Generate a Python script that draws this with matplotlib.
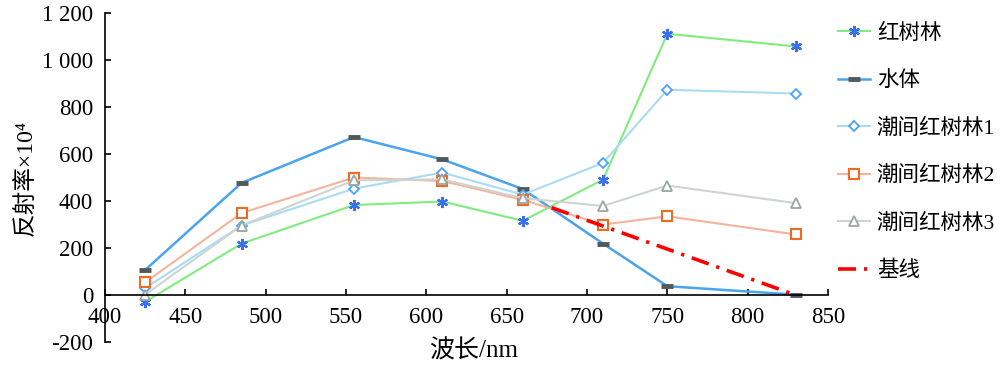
import matplotlib.pyplot as plt
from matplotlib.ticker import FuncFormatter

plt.rcParams['font.family'] = ['Liberation Serif', 'Noto Sans CJK SC']
plt.rcParams['axes.unicode_minus'] = False

wavelength = [425, 485, 555, 610, 660, 710, 750, 830]
mangrove = [-28, 219, 383, 398, 316, 491, 1111, 1057]
water = [107, 477, 672, 577, 451, 219, 38, 2]
tidal1 = [30, 296, 453, 521, 427, 562, 873, 857]
tidal2 = [54, 349, 500, 485, 405, 300, 335, 258]
tidal3 = [2, 296, 488, 492, 412, 379, 466, 391]
base_x = [678, 830]
base_y = [372, 0]

labels = ['红树林', '水体', '潮间红树林1', '潮间红树林2', '潮间红树林3', '基线']

fig = plt.figure(figsize=(10, 3.66), dpi=100)
ax = fig.add_axes([0.105, 0.065, 0.723, 0.9])

ax.plot(wavelength, mangrove, color='#80ec80', lw=1.5, marker=(6, 2, 0),
        ms=8, mec='#3a6ff0', mew=1.6, label=labels[0])
ax.plot(wavelength, water, color='#4aa3ee', lw=1.8, marker='_',
        ms=9, mec='#505a5a', mew=3.5, label=labels[1])
ax.plot(wavelength, tidal1, color='#a9dcf4', lw=1.5, marker='D',
        ms=5.5, mfc='white', mec='#4aa3f5', mew=1.3, label=labels[2])
ax.plot(wavelength, tidal2, color='#f5b39c', lw=1.5, marker='s',
        ms=7, mfc='white', mec='#f26a22', mew=1.5, label=labels[3])
ax.plot(wavelength, tidal3, color='#cdd5d2', lw=1.5, marker='^',
        ms=7, mfc='white', mec='#9aa6a2', mew=1.3, label=labels[4])
ax.plot(base_x, base_y, color='#ff0000', lw=2.6, ls=(0, (5, 2.2, 0.9, 2.2)),
        label=labels[5])

ax.set_xlim(400, 850)
ax.set_ylim(-200, 1200)
ax.set_xticks(range(400, 851, 50))
ax.set_yticks(range(-200, 1201, 200))
ax.yaxis.set_major_formatter(FuncFormatter(lambda v, _: f'{int(v):,}'.replace(',', ' ')))

for s in ['top', 'right']:
    ax.spines[s].set_visible(False)
ax.spines['bottom'].set_position(('data', 0))
for s in ['left', 'bottom']:
    ax.spines[s].set_linewidth(1.2)
ax.tick_params(direction='in', length=4, width=1.2, labelsize=16.5, pad=8.5)

ax.set_xlabel('波长/nm', fontsize=18)
ax.set_ylabel('反射率×10⁴', fontsize=17)
ax.xaxis.set_label_coords(0.51, 0.01)
ax.yaxis.set_label_coords(-0.095, 0.5)

fig.legend(handles=ax.get_lines(), labels=labels, loc='upper left',
           bbox_to_anchor=(0.838, 0.935), frameon=False, fontsize=15.5,
           borderpad=0, borderaxespad=0, handlelength=1.5,
           labelspacing=1.27, handletextpad=0.3)

fig.savefig('out.png', dpi=100)
